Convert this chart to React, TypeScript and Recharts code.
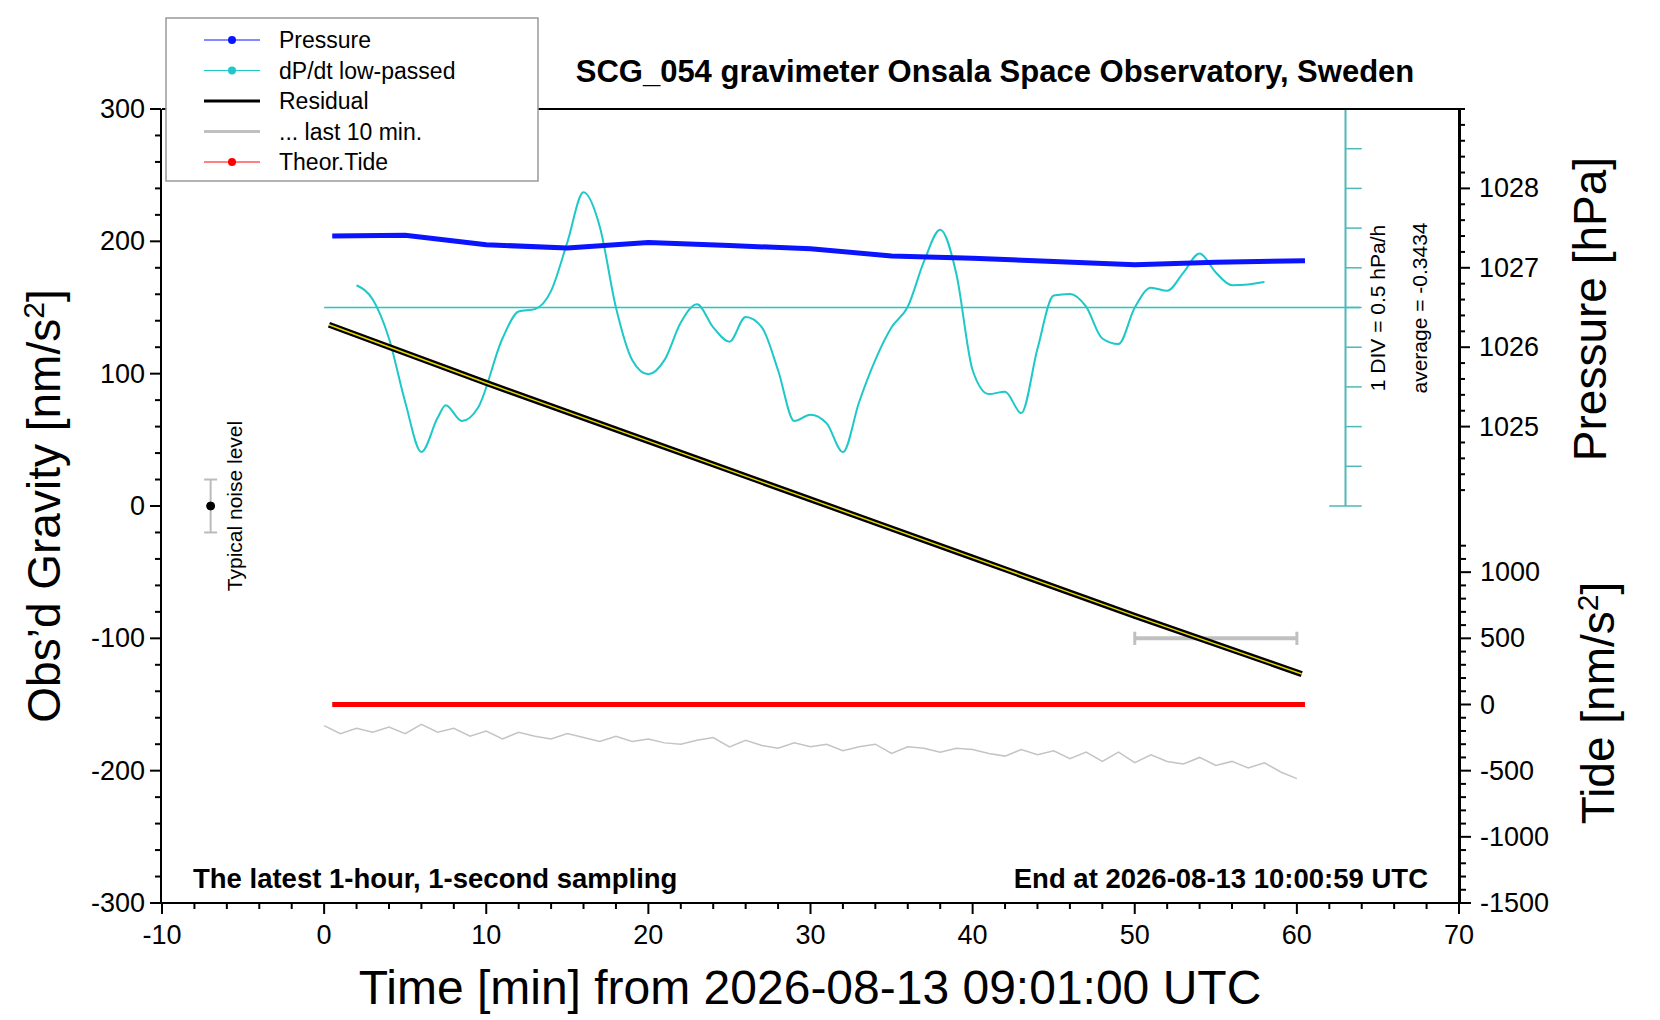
import React from 'react';
import { ComposedChart, Line, XAxis, YAxis, ReferenceLine } from 'recharts';

// time in minutes from 09:01:00 UTC
const pressureTime = [0.5, 5, 10, 15, 20, 25, 30, 35, 40, 45, 50, 55, 60.5];
const pressureHpa = [1027.4, 1027.41, 1027.29, 1027.25, 1027.32, 1027.28, 1027.24, 1027.15, 1027.12, 1027.08, 1027.04, 1027.07, 1027.09];

const dpdtTime = [2, 3, 4, 5, 6, 7, 7.5, 8.5, 9.5, 11, 12, 13, 14, 15, 16, 17, 18, 19, 20, 21, 22, 23, 24, 25, 26, 27, 28, 29, 30, 31, 32, 33, 34, 35, 36, 37, 38, 39, 40, 41, 42, 43, 44, 45, 46, 47, 48, 49, 50, 51, 52, 53, 54, 55, 56, 57, 58];
const dpdtValue = [0.28, 0.1, -0.39, -1.19, -1.82, -1.39, -1.23, -1.43, -1.26, -0.39, -0.05, -0.02, 0.21, 0.82, 1.45, 1.02, 0.0, -0.66, -0.84, -0.66, -0.19, 0.04, -0.25, -0.43, -0.12, -0.25, -0.79, -1.43, -1.35, -1.46, -1.82, -1.19, -0.66, -0.25, 0.01, 0.58, 0.98, 0.42, -0.79, -1.09, -1.06, -1.33, -0.52, 0.15, 0.17, 0.01, -0.39, -0.46, 0.0, 0.25, 0.21, 0.44, 0.68, 0.44, 0.28, 0.29, 0.32];

const residualTime = [0.3, 10, 20, 30, 40, 50, 60.3];
const residualValue = [137, 93, 49, 5, -39, -83, -127];

const lastTime = [0, 1, 2, 3, 4, 5, 6, 7, 8, 9, 10, 11, 12, 13, 14, 15, 16, 17, 18, 19, 20, 21, 22, 23, 24, 25, 26, 27, 28, 29, 30, 31, 32, 33, 34, 35, 36, 37, 38, 39, 40, 41, 42, 43, 44, 45, 46, 47, 48, 49, 50, 51, 52, 53, 54, 55, 56, 57, 58, 59, 60];
const lastValue = [-166, -172, -168, -171, -167, -172, -165, -171, -168, -174, -170, -176, -171, -174, -176, -172, -175, -178, -174, -178, -176, -179, -180, -177, -175, -182, -177, -181, -183, -179, -182, -180, -185, -182, -180, -187, -182, -183, -186, -183, -184, -187, -189, -184, -188, -185, -191, -186, -193, -186, -194, -188, -193, -195, -190, -196, -193, -198, -194, -201, -206];

const tideTime = [0.5, 60.5];
const tideValue = [0, 0];

const gravityTicks = [-300, -200, -100, 0, 100, 200, 300];
const pressureTicks = [1025, 1026, 1027, 1028];
const tideTicks = [-1500, -1000, -500, 0, 500, 1000];
const timeTicks = [-10, 0, 10, 20, 30, 40, 50, 60, 70];
const dpdtTicks = [-2.5, -2, -1.5, -1, -0.5, 0, 0.5, 1, 1.5, 2, 2.5];

const range = (a: number, b: number, s: number) => {
  const r: number[] = [];
  for (let v = a; v <= b + 1e-9; v += s) r.push(Math.round(v * 1000) / 1000);
  return r;
};

const zip = (xs: number[], ys: number[]) => xs.map((t, i) => ({ t, v: ys[i] }));

const FONT = '"Liberation Sans", Arial, sans-serif';
const CYAN = '#1ec8c8';
const AXIS_CYAN = '#4fb8b8';
const FS = 27;

// tick renderer: long tick + label on majors, short tick on minors
const makeTick = (side: 'left' | 'right' | 'bottom' | 'top', majors: number[], label: boolean) => (props: any) => {
  const { x, y, payload } = props;
  const v = payload.value;
  const major = majors.some((m) => Math.abs(m - v) < 1e-6);
  const len = major ? 11 : 6;
  if (side === 'left') {
    return (
      <g>
        <line x1={x} x2={x - len} y1={y} y2={y} stroke="#000" strokeWidth={2} />
        {major && label && <text x={x - 16} y={y + 9} fontSize={FS} textAnchor="end" fontFamily={FONT}>{v}</text>}
      </g>
    );
  }
  if (side === 'right') {
    return (
      <g>
        <line x1={x} x2={x + len} y1={y} y2={y} stroke="#000" strokeWidth={2} />
        {major && label && <text x={x + 20} y={y + 9} fontSize={FS} textAnchor="start" fontFamily={FONT}>{v}</text>}
      </g>
    );
  }
  if (side === 'bottom') {
    return (
      <g>
        <line x1={x} x2={x} y1={y} y2={y + len} stroke="#000" strokeWidth={2} />
        {major && label && <text x={x} y={y + 41} fontSize={FS} textAnchor="middle" fontFamily={FONT}>{v}</text>}
      </g>
    );
  }
  return <line x1={x} x2={x} y1={y} y2={y - len} stroke="#000" strokeWidth={2} />;
};

export default function App() {
  return (
    <div style={{ position: 'absolute', left: 0, top: 0, width: 1660, height: 1020, background: '#fff', fontFamily: FONT }}>
      <ComposedChart width={1660} height={1020} margin={{ left: 161, right: 199, top: 108, bottom: 116 }}>
        <XAxis xAxisId="x" type="number" dataKey="t" domain={[-10, 70]} ticks={range(-10, 70, 2)}
          tick={makeTick('bottom', timeTicks, true)} tickLine={false} tickSize={0} tickMargin={0}
          stroke="#000" strokeWidth={2} height={1} interval={0} allowDataOverflow />
        <XAxis xAxisId="xt" orientation="top" type="number" dataKey="t" domain={[-10, 70]} ticks={range(-10, 70, 2)}
          tick={makeTick('top', timeTicks, false)} tickLine={false} tickSize={0} tickMargin={0}
          stroke="#000" strokeWidth={2} height={1} interval={0} />

        <YAxis yAxisId="g" type="number" domain={[-300, 300]} ticks={range(-300, 300, 20)}
          tick={makeTick('left', gravityTicks, true)} tickLine={false} tickSize={0} tickMargin={0}
          stroke="#000" strokeWidth={2} width={1} interval={0} />
        <YAxis yAxisId="p" orientation="right" type="number" domain={[1019, 1029]} ticks={range(1024.2, 1029, 0.2)}
          tick={makeTick('right', pressureTicks, true)} tickLine={false} tickSize={0} tickMargin={0}
          stroke="#000" strokeWidth={2} width={1} interval={0} />
        <YAxis yAxisId="td" orientation="right" type="number" domain={[-1500, 4500]} ticks={range(-1500, 1200, 100)}
          tick={makeTick('right', tideTicks, true)} tickLine={false} tickSize={0} tickMargin={0}
          stroke="#000" strokeWidth={2} width={1} interval={0} />
        <YAxis yAxisId="d" type="number" domain={[-7.5, 2.5]} hide width={1} />

        {/* dP/dt scale */}
        <ReferenceLine xAxisId="x" yAxisId="d" segment={[{ x: 0, y: 0 }, { x: 63.9, y: 0 }]} stroke={CYAN} strokeWidth={1.5} />
        <ReferenceLine xAxisId="x" yAxisId="d" segment={[{ x: 63, y: -2.5 }, { x: 63, y: 2.5 }]} stroke={AXIS_CYAN} strokeWidth={2} />
        {dpdtTicks.map((v) => (
          <ReferenceLine key={v} xAxisId="x" yAxisId="d"
            segment={[{ x: Math.abs(v) === 2.5 ? 62 : 63, y: v }, { x: 64, y: v }]} stroke={AXIS_CYAN} strokeWidth={1.5} />
        ))}

        {/* noise level bar */}
        <ReferenceLine xAxisId="x" yAxisId="g" segment={[{ x: -7, y: -20 }, { x: -7, y: 20 }]} stroke="#bbb" strokeWidth={2} />
        <ReferenceLine xAxisId="x" yAxisId="g" segment={[{ x: -7.4, y: 20 }, { x: -6.6, y: 20 }]} stroke="#bbb" strokeWidth={2} />
        <ReferenceLine xAxisId="x" yAxisId="g" segment={[{ x: -7.4, y: -20 }, { x: -6.6, y: -20 }]} stroke="#bbb" strokeWidth={2} />

        {/* last 10 min bar */}
        <ReferenceLine xAxisId="x" yAxisId="g" segment={[{ x: 50, y: -100 }, { x: 60, y: -100 }]} stroke="#c0c0c0" strokeWidth={4} />
        <ReferenceLine xAxisId="x" yAxisId="g" segment={[{ x: 50, y: -95 }, { x: 50, y: -105 }]} stroke="#c0c0c0" strokeWidth={3} />
        <ReferenceLine xAxisId="x" yAxisId="g" segment={[{ x: 60, y: -95 }, { x: 60, y: -105 }]} stroke="#c0c0c0" strokeWidth={3} />

        <Line xAxisId="x" yAxisId="g" data={[{ t: -7, v: 0 }]} dataKey="v" stroke="none"
          dot={{ r: 4, fill: '#000', stroke: '#000' }} isAnimationActive={false} />
        <Line xAxisId="x" yAxisId="g" data={zip(lastTime, lastValue)} dataKey="v" stroke="#c4c4c4" strokeWidth={1.5}
          dot={false} isAnimationActive={false} />
        <Line xAxisId="x" yAxisId="d" data={zip(dpdtTime, dpdtValue)} dataKey="v" type="monotone" stroke={CYAN} strokeWidth={2}
          dot={false} isAnimationActive={false} />
        <Line xAxisId="x" yAxisId="p" data={zip(pressureTime, pressureHpa)} dataKey="v" stroke="#0a14ff" strokeWidth={5}
          dot={false} isAnimationActive={false} />
        <Line xAxisId="x" yAxisId="g" data={zip(residualTime, residualValue)} dataKey="v" stroke="#000" strokeWidth={6}
          dot={false} isAnimationActive={false} />
        <Line xAxisId="x" yAxisId="g" data={zip(residualTime, residualValue)} dataKey="v" stroke="#e8d800" strokeWidth={1.5}
          dot={false} isAnimationActive={false} />
        <Line xAxisId="x" yAxisId="td" data={zip(tideTime, tideValue)} dataKey="v" stroke="#ff0000" strokeWidth={5}
          dot={false} isAnimationActive={false} />
      </ComposedChart>

      <svg width={1660} height={1020} style={{ position: 'absolute', left: 0, top: 0, pointerEvents: 'none' }} fontFamily={FONT}>
        <text x={995} y={82} fontSize={31} fontWeight="bold" textAnchor="middle">SCG_054 gravimeter Onsala Space Observatory, Sweden</text>
        <text x={193} y={888} fontSize={27.5} fontWeight="bold">The latest 1-hour, 1-second sampling</text>
        <text x={1428} y={888} fontSize={27.5} fontWeight="bold" textAnchor="end">End at 2026-08-13 10:00:59 UTC</text>
        <text x={810} y={1004} fontSize={48} textAnchor="middle">Time [min] from 2026-08-13 09:01:00 UTC</text>
        <text transform="translate(60,506) rotate(-90)" fontSize={46} textAnchor="middle">Obs’d Gravity [nm/s<tspan dy={-16} fontSize={30}>2</tspan><tspan dy={16}>]</tspan></text>
        <text transform="translate(1606,309) rotate(-90)" fontSize={46} textAnchor="middle">Pressure [hPa]</text>
        <text transform="translate(1614,703) rotate(-90)" fontSize={46} textAnchor="middle">Tide [nm/s<tspan dy={-16} fontSize={30}>2</tspan><tspan dy={16}>]</tspan></text>
        <text transform="translate(1385,308) rotate(-90)" fontSize={21} textAnchor="middle">1 DIV = 0.5 hPa/h</text>
        <text transform="translate(1427,308) rotate(-90)" fontSize={21} textAnchor="middle">average = -0.3434</text>
        <text transform="translate(242,506) rotate(-90)" fontSize={21} textAnchor="middle">Typical noise level</text>

        <rect x={166} y={18} width={372} height={163} fill="#fff" stroke="#999" strokeWidth={1.5} />
        {[
          { label: 'Pressure', color: '#0a14ff', dot: true, w: 1 },
          { label: 'dP/dt low-passed', color: CYAN, dot: true, w: 1 },
          { label: 'Residual', color: '#000', dot: false, w: 3 },
          { label: '... last 10 min.', color: '#c0c0c0', dot: false, w: 3 },
          { label: 'Theor.Tide', color: '#ff0000', dot: true, w: 1 },
        ].map((e, i) => {
          const y = 40 + i * 30.5;
          return (
            <g key={e.label}>
              <line x1={204} x2={260} y1={y} y2={y} stroke={e.color} strokeWidth={e.w} />
              {e.dot && <circle cx={232} cy={y} r={4} fill={e.color} />}
              <text x={279} y={y + 8} fontSize={23}>{e.label}</text>
            </g>
          );
        })}
      </svg>
    </div>
  );
}
